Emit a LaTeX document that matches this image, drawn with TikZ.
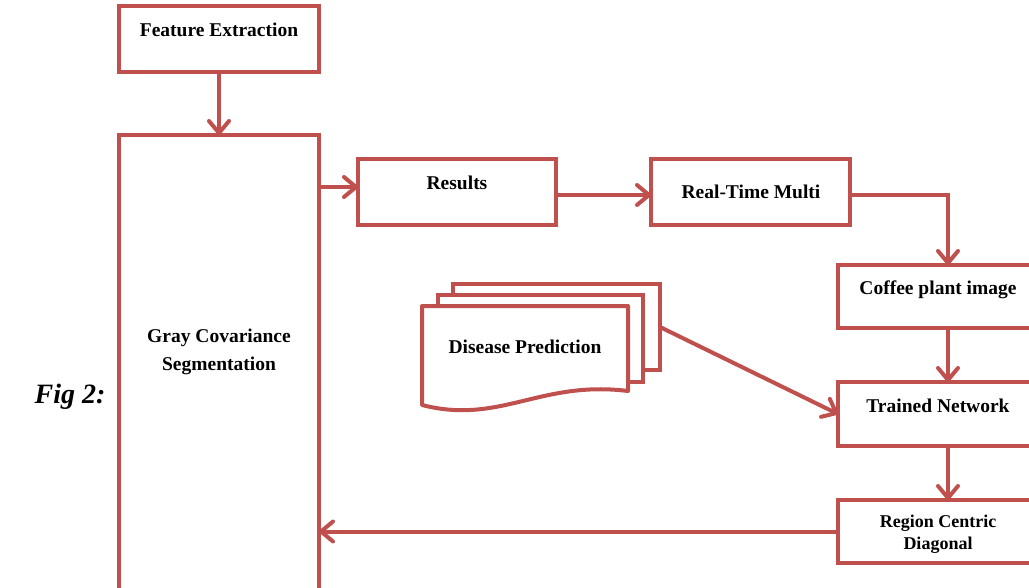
\documentclass[tikz,border=0pt]{standalone}
\usepackage{fontspec}
\setmainfont{Liberation Serif}
\usetikzlibrary{arrows.meta}
\definecolor{cred}{HTML}{C0504D}
\begin{document}
\begin{tikzpicture}[x=1pt,y=-1pt,
  box/.style={draw=cred, line width=4pt, fill=white, anchor=north west, inner sep=0pt, outer sep=0pt},
  lbl/.style={font=\bfseries\fontsize{19.5}{22}\selectfont, anchor=base, inner sep=0pt},
  slbl/.style={font=\bfseries\fontsize{18}{20}\selectfont, anchor=base, inner sep=0pt},
  arr/.style={draw=cred, line width=4pt, -{Straight Barb[length=12pt,width=20pt,round]}},
  conn/.style={draw=cred, line width=4pt}]
\useasboundingbox (0,0) rectangle (1029,587);
\clip (0,0) rectangle (1029,587);
\fill[white] (0,0) rectangle (1029,587);
% boxes
\node[box, minimum width=200pt, minimum height=66pt] (fe) at (119,6) {};
\node[box, minimum width=200pt, minimum height=480pt] (gcs) at (119,135) {};
\node[box, minimum width=198pt, minimum height=66pt] (res) at (358,159) {};
\node[box, minimum width=199pt, minimum height=66pt] (rtm) at (651,159) {};
\node[box, minimum width=220pt, minimum height=63pt] (cpi) at (838,265) {};
\node[box, minimum width=220pt, minimum height=64pt] (tn) at (838,382) {};
\node[box, minimum width=220pt, minimum height=63pt] (rcd) at (838,500) {};
% multi-document
\node[box, minimum width=207pt, minimum height=86pt] (dp3) at (453,284) {};
\node[box, minimum width=205pt, minimum height=87pt] (dp2) at (438,295) {};
\draw[conn, fill=white, line join=round] (422,306) coordinate (dp1) -- (628,306) -- (628,391)
  .. controls (540,380) and (500,425) .. (422,405) -- cycle;
% labels
\node[lbl] (tfe) at (219,36) {Feature Extraction};
\node[lbl] (tg1) at (219,342) {Gray Covariance};
\node[lbl] (tg2) at (219,370) {Segmentation};
\node[lbl] (tres) at (457,189) {Results};
\node[lbl] (trtm) at (751,198) {Real-Time Multi};
\node[lbl] (tcpi) at (938,294) {Coffee plant image};
\node[lbl] (ttn) at (938,412) {Trained Network};
\node[slbl] (tr1) at (938,527) {Region Centric};
\node[slbl] (tr2) at (938,549) {Diagonal};
\node[lbl] (tdp) at (525,353) {Disease Prediction};
\node[font=\bfseries\itshape\fontsize{28}{30}\selectfont, anchor=base, inner sep=0pt] (fig) at (70,403) {Fig 2:};
% connectors
\draw[arr] (fe.south) -- (gcs.north);
\draw[arr] (gcs.east |- 0,187) -- ([yshift=5pt]res.west);
\draw[arr] ([yshift=-3pt]res.east) -- ([yshift=-3pt]rtm.west);
\draw[arr] ([yshift=-3pt]rtm.east) -| (cpi.north);
\draw[arr] (cpi.south) -- (tn.north);
\draw[arr] (tn.south) -- (rcd.north);
\draw[arr] (dp3.east) -- (tn.west);
\draw[arr] (rcd.west) -- (gcs.east |- rcd.west);
\end{tikzpicture}
\end{document}
